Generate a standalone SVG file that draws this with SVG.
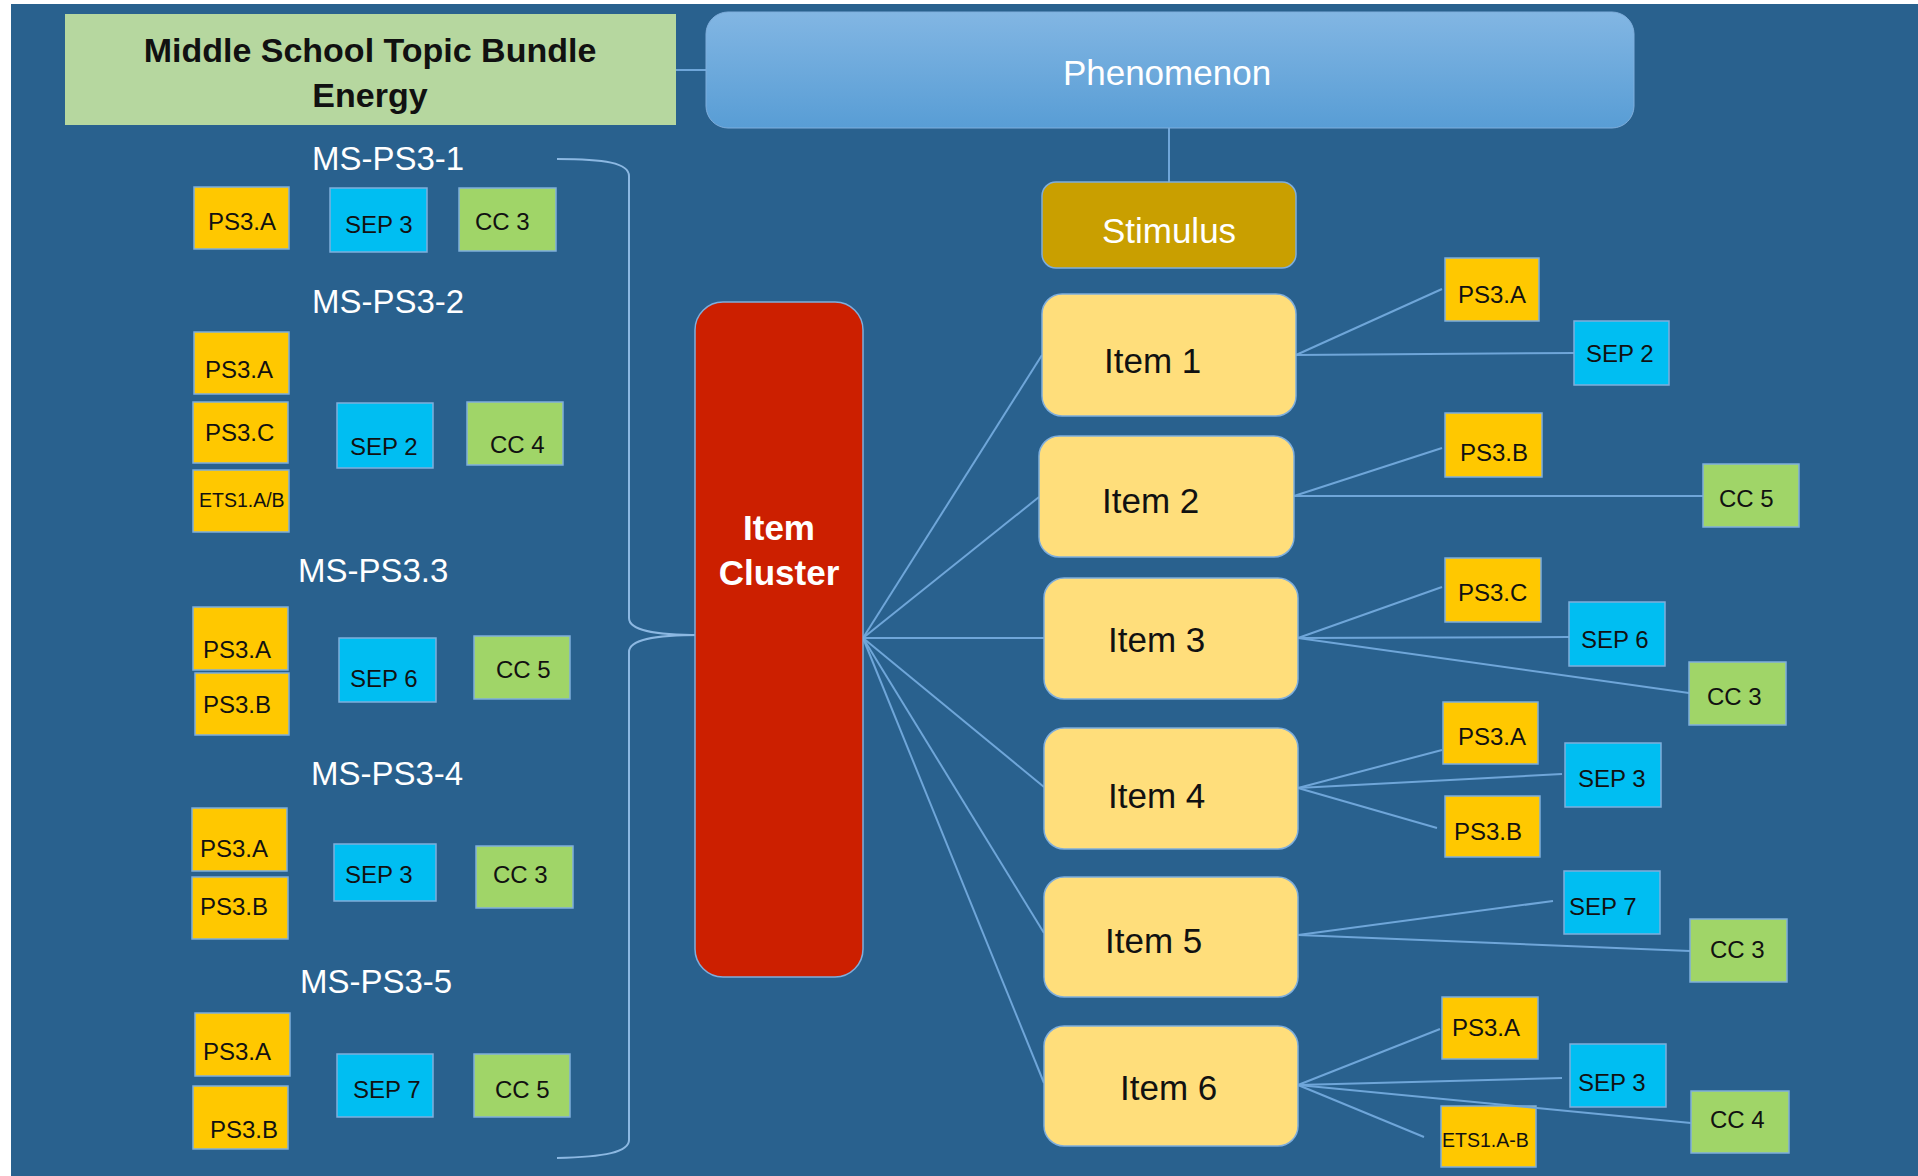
<svg xmlns="http://www.w3.org/2000/svg" width="1918" height="1176" viewBox="0 0 1918 1176">
  <defs>
    <linearGradient id="phenGrad" x1="0" y1="0" x2="0" y2="1">
      <stop offset="0" stop-color="#82B6E3"/>
      <stop offset="1" stop-color="#589DD5"/>
    </linearGradient>
  </defs>
  <style>
    .bg { fill: #29618E; }
    .wire { stroke: #6FA6D9; stroke-width: 2; fill: none; }
    .brace { stroke: #8CB8E2; stroke-width: 2; fill: none; }
    .tag { stroke: #7FAEDC; stroke-width: 1.5; }
    .dci { fill: #FFC800; }
    .sep { fill: #00BEF2; }
    .cc  { fill: #A0D568; }
    .lbl { font-family: "Liberation Sans", Arial, sans-serif; font-size: 24px; fill: #111; }
    .lbl-sm { font-family: "Liberation Sans", Arial, sans-serif; font-size: 19.5px; fill: #111; }
    .std { font-family: "Liberation Sans", Arial, sans-serif; font-size: 33px; fill: #FFFFFF; }
    .item { fill: #FFDE7B; stroke: #7FAEDC; stroke-width: 1.5; }
    .item-t { font-family: "Liberation Sans", Arial, sans-serif; font-size: 35px; fill: #111; }
    .white-t { font-family: "Liberation Sans", Arial, sans-serif; font-size: 35px; fill: #FFFFFF; text-anchor: middle; }
  </style>

  <rect x="0" y="0" width="1918" height="1176" fill="#FFFFFF"/>
  <rect class="bg" x="11" y="4" width="1907" height="1172"/>

  <!-- connectors -->
  <g id="connectors">
    <line class="wire" x1="676" y1="70" x2="706" y2="70"/>
    <line class="wire" x1="1169" y1="128" x2="1169" y2="182"/>
    <!-- brace grouping the standards -->
    <path class="brace" d="M557,159 C605,159 629,163 629,176 L629,618 C629,630 652,635 700,635 M700,635 C652,635 629,640 629,652 L629,1140 C629,1152 605,1157 557,1158"/>
    <!-- item cluster to items -->
    <line class="wire" x1="863" y1="638" x2="1042" y2="355"/>
    <line class="wire" x1="863" y1="638" x2="1039" y2="497"/>
    <line class="wire" x1="863" y1="638" x2="1044" y2="638"/>
    <line class="wire" x1="863" y1="638" x2="1044" y2="787"/>
    <line class="wire" x1="863" y1="638" x2="1044" y2="933"/>
    <line class="wire" x1="863" y1="638" x2="1044" y2="1083"/>
    <!-- item 1 -->
    <line class="wire" x1="1296" y1="355" x2="1442" y2="289"/>
    <line class="wire" x1="1296" y1="355" x2="1574" y2="353"/>
    <!-- item 2 -->
    <line class="wire" x1="1294" y1="496" x2="1442" y2="448"/>
    <line class="wire" x1="1294" y1="496" x2="1703" y2="496"/>
    <!-- item 3 -->
    <line class="wire" x1="1298" y1="638" x2="1442" y2="587"/>
    <line class="wire" x1="1298" y1="638" x2="1569" y2="637"/>
    <line class="wire" x1="1298" y1="638" x2="1689" y2="693"/>
    <!-- item 4 -->
    <line class="wire" x1="1298" y1="788" x2="1442" y2="750"/>
    <line class="wire" x1="1298" y1="788" x2="1562" y2="774"/>
    <line class="wire" x1="1298" y1="788" x2="1437" y2="828"/>
    <!-- item 5 -->
    <line class="wire" x1="1298" y1="935" x2="1553" y2="901"/>
    <line class="wire" x1="1298" y1="935" x2="1690" y2="951"/>
    <!-- item 6 -->
    <line class="wire" x1="1298" y1="1085" x2="1440" y2="1029"/>
    <line class="wire" x1="1298" y1="1085" x2="1562" y2="1078"/>
    <line class="wire" x1="1298" y1="1085" x2="1424" y2="1137"/>
  </g>

  <!-- title -->
  <g id="title">
    <rect x="65" y="14" width="611" height="111" fill="#B6D79F"/>
    <text x="370" y="62" text-anchor="middle" font-family="Liberation Sans, Arial, sans-serif" font-weight="bold" font-size="34" fill="#111">Middle School Topic Bundle</text>
    <text x="370" y="107" text-anchor="middle" font-family="Liberation Sans, Arial, sans-serif" font-weight="bold" font-size="34" fill="#111">Energy</text>
  </g>

  <g id="phenomenon">
    <rect x="706" y="12" width="928" height="116" rx="22" fill="url(#phenGrad)" stroke="#7FAEDC" stroke-width="1"/>
    <text class="white-t" x="1167" y="85">Phenomenon</text>
  </g>

  <g id="stimulus">
    <rect x="1042" y="182" width="254" height="86" rx="14" fill="#C99F00" stroke="#7FAEDC" stroke-width="1.5"/>
    <text class="white-t" x="1169" y="243">Stimulus</text>
  </g>

  <g id="item-cluster">
    <rect x="695" y="302" width="168" height="675" rx="28" fill="#CC1F00" stroke="#7FAEDC" stroke-width="1.5"/>
    <text class="white-t" x="779" y="540" font-weight="bold" font-size="33">Item</text>
    <text class="white-t" x="779" y="585" font-weight="bold" font-size="33">Cluster</text>
  </g>

  <!-- standards -->
  <g id="ms-ps3-1">
    <text class="std" x="312" y="170">MS-PS3-1</text>
    <rect class="tag dci" x="194" y="187" width="95" height="62"/>
    <text class="lbl" x="208" y="230">PS3.A</text>
    <rect class="tag sep" x="330" y="188" width="97" height="64"/>
    <text class="lbl" x="345" y="233">SEP 3</text>
    <rect class="tag cc" x="459" y="188" width="97" height="63"/>
    <text class="lbl" x="475" y="230">CC 3</text>
  </g>

  <g id="ms-ps3-2">
    <text class="std" x="312" y="313">MS-PS3-2</text>
    <rect class="tag dci" x="194" y="332" width="95" height="62"/>
    <text class="lbl" x="205" y="378">PS3.A</text>
    <rect class="tag dci" x="193" y="402" width="95" height="61"/>
    <text class="lbl" x="205" y="441">PS3.C</text>
    <rect class="tag dci" x="193" y="470" width="96" height="62"/>
    <text class="lbl-sm" x="199" y="507">ETS1.A/B</text>
    <rect class="tag sep" x="337" y="403" width="96" height="65"/>
    <text class="lbl" x="350" y="455">SEP 2</text>
    <rect class="tag cc" x="467" y="402" width="96" height="63"/>
    <text class="lbl" x="490" y="453">CC 4</text>
  </g>

  <g id="ms-ps3-3">
    <text class="std" x="298" y="582">MS-PS3.3</text>
    <rect class="tag dci" x="193" y="607" width="95" height="63"/>
    <text class="lbl" x="203" y="658">PS3.A</text>
    <rect class="tag dci" x="195" y="673" width="94" height="62"/>
    <text class="lbl" x="203" y="713">PS3.B</text>
    <rect class="tag sep" x="339" y="638" width="97" height="64"/>
    <text class="lbl" x="350" y="687">SEP 6</text>
    <rect class="tag cc" x="474" y="636" width="96" height="63"/>
    <text class="lbl" x="496" y="678">CC 5</text>
  </g>

  <g id="ms-ps3-4">
    <text class="std" x="311" y="785">MS-PS3-4</text>
    <rect class="tag dci" x="192" y="808" width="95" height="63"/>
    <text class="lbl" x="200" y="857">PS3.A</text>
    <rect class="tag dci" x="192" y="877" width="96" height="62"/>
    <text class="lbl" x="200" y="915">PS3.B</text>
    <rect class="tag sep" x="334" y="844" width="102" height="57"/>
    <text class="lbl" x="345" y="883">SEP 3</text>
    <rect class="tag cc" x="476" y="846" width="97" height="62"/>
    <text class="lbl" x="493" y="883">CC 3</text>
  </g>

  <g id="ms-ps3-5">
    <text class="std" x="300" y="993">MS-PS3-5</text>
    <rect class="tag dci" x="195" y="1013" width="95" height="63"/>
    <text class="lbl" x="203" y="1060">PS3.A</text>
    <rect class="tag dci" x="193" y="1086" width="95" height="63"/>
    <text class="lbl" x="210" y="1138">PS3.B</text>
    <rect class="tag sep" x="337" y="1054" width="96" height="63"/>
    <text class="lbl" x="353" y="1098">SEP 7</text>
    <rect class="tag cc" x="474" y="1054" width="96" height="63"/>
    <text class="lbl" x="495" y="1098">CC 5</text>
  </g>

  <!-- items -->
  <g id="item-1">
    <rect class="item" x="1042" y="294" width="254" height="122" rx="20"/>
    <text class="item-t" x="1104" y="373">Item 1</text>
  </g>
  <g id="item-2">
    <rect class="item" x="1039" y="436" width="255" height="121" rx="20"/>
    <text class="item-t" x="1102" y="513">Item 2</text>
  </g>
  <g id="item-3">
    <rect class="item" x="1044" y="578" width="254" height="121" rx="20"/>
    <text class="item-t" x="1108" y="652">Item 3</text>
  </g>
  <g id="item-4">
    <rect class="item" x="1044" y="728" width="254" height="121" rx="20"/>
    <text class="item-t" x="1108" y="808">Item 4</text>
  </g>
  <g id="item-5">
    <rect class="item" x="1044" y="877" width="254" height="120" rx="20"/>
    <text class="item-t" x="1105" y="953">Item 5</text>
  </g>
  <g id="item-6">
    <rect class="item" x="1044" y="1026" width="254" height="120" rx="20"/>
    <text class="item-t" x="1120" y="1100">Item 6</text>
  </g>

  <!-- item tags -->
  <g id="item-1-tags">
    <rect class="tag dci" x="1445" y="258" width="94" height="63"/>
    <text class="lbl" x="1458" y="303">PS3.A</text>
    <rect class="tag sep" x="1574" y="321" width="95" height="64"/>
    <text class="lbl" x="1586" y="362">SEP 2</text>
  </g>
  <g id="item-2-tags">
    <rect class="tag dci" x="1445" y="413" width="97" height="64"/>
    <text class="lbl" x="1460" y="461">PS3.B</text>
    <rect class="tag cc" x="1703" y="464" width="96" height="63"/>
    <text class="lbl" x="1719" y="507">CC 5</text>
  </g>
  <g id="item-3-tags">
    <rect class="tag dci" x="1445" y="558" width="96" height="64"/>
    <text class="lbl" x="1458" y="601">PS3.C</text>
    <rect class="tag sep" x="1569" y="602" width="96" height="64"/>
    <text class="lbl" x="1581" y="648">SEP 6</text>
    <rect class="tag cc" x="1689" y="662" width="97" height="63"/>
    <text class="lbl" x="1707" y="705">CC 3</text>
  </g>
  <g id="item-4-tags">
    <rect class="tag dci" x="1443" y="702" width="95" height="62"/>
    <text class="lbl" x="1458" y="745">PS3.A</text>
    <rect class="tag sep" x="1565" y="743" width="96" height="64"/>
    <text class="lbl" x="1578" y="787">SEP 3</text>
    <rect class="tag dci" x="1445" y="796" width="95" height="61"/>
    <text class="lbl" x="1454" y="840">PS3.B</text>
  </g>
  <g id="item-5-tags">
    <rect class="tag sep" x="1564" y="871" width="96" height="63"/>
    <text class="lbl" x="1569" y="915">SEP 7</text>
    <rect class="tag cc" x="1690" y="919" width="97" height="63"/>
    <text class="lbl" x="1710" y="958">CC 3</text>
  </g>
  <g id="item-6-tags">
    <rect class="tag dci" x="1442" y="997" width="96" height="62"/>
    <text class="lbl" x="1452" y="1036">PS3.A</text>
    <rect class="tag sep" x="1570" y="1044" width="96" height="63"/>
    <text class="lbl" x="1578" y="1091">SEP 3</text>
    <rect class="tag dci" x="1441" y="1106" width="95" height="61"/>
    <text class="lbl-sm" x="1442" y="1147">ETS1.A-B</text>
    <rect class="tag cc" x="1691" y="1091" width="98" height="62"/>
    <text class="lbl" x="1710" y="1128">CC 4</text>
  </g>
  <!-- line to CC 4 runs over the SEP 3 and ETS1 tags -->
  <g id="connectors-over">
    <line class="wire" x1="1298" y1="1085" x2="1691" y2="1123"/>
  </g>
</svg>
